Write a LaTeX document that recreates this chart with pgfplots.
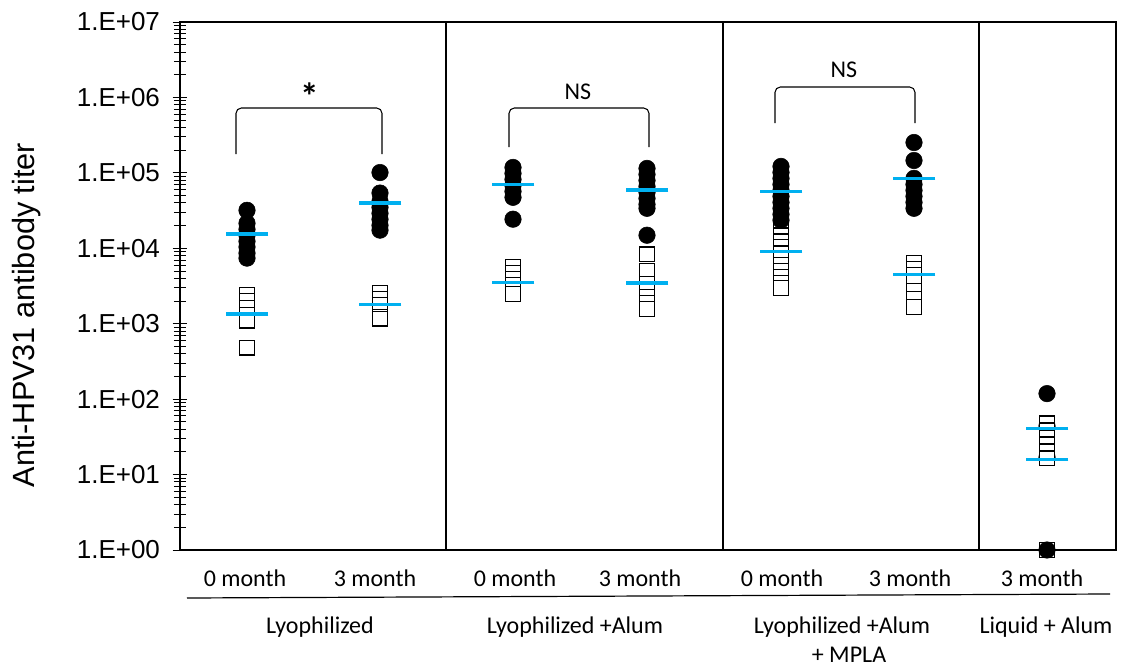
\documentclass[border=0pt]{standalone}
\usepackage{pgfplots}
\pgfplotsset{compat=1.18}
\usepackage{fontspec}
\setmainfont{Carlito}
\newfontfamily\lib{Liberation Sans}
\definecolor{meanblue}{RGB}{0,176,240}

\begin{document}
\begin{tikzpicture}
\useasboundingbox (-135pt,-89.25pt) rectangle (706.5pt,412.5pt);
\begin{axis}[
  at={(0pt,0pt)}, anchor=south west, scale only axis,
  width=702pt, height=396pt,
  xmin=180, xmax=1116, ymode=log, ymin=1, ymax=1e7,
  axis line style={line width=0.8pt},
  clip=false,
  xtick={245,375,515,640,782,910,1042},
  xticklabels={0 month,3 month,0 month,3 month,0 month,3 month,3 month},
  major x tick style={draw=none},
  xticklabel style={font=\fontsize{18}{20}\selectfont, anchor=base, yshift=-21.5pt},
  ytick={1,10,100,1000,10000,100000,1000000,10000000},
  yticklabels={1.E+00,1.E+01,1.E+02,1.E+03,1.E+04,1.E+05,1.E+06,1.E+07},
  yticklabel style={font=\lib\fontsize{19.5}{22}\selectfont, xshift=-6pt},
  ytick pos=left, xtick pos=bottom,
  tick align=center,
  major tick length=11pt, minor tick length=9pt,
  every tick/.style={black, line width=0.6pt},
]
% separators
\draw[line width=0.8pt] (axis cs:446,1) -- (axis cs:446,1e7);
\draw[line width=0.8pt] (axis cs:723,1) -- (axis cs:723,1e7);
\draw[line width=0.8pt] (axis cs:979,1) -- (axis cs:979,1e7);

% hidden circles behind squares (liquid)
\addplot[only marks, mark=*, mark size=6.2pt, mark options={fill=black, draw=black}]
coordinates {(1047,44)(1047,17)};

% squares
\addplot[only marks, mark=square*, mark size=5.5pt, mark options={fill=white, draw=black, line width=1.1pt}]
coordinates {
(247,2410)(247,2005)(247,1620)(247,1310)(247,1092)(247,480)
(380,2560)(380,2130)(380,1775)(380,1480)(380,1233)(380,1160)
(513,5640)(513,4700)(513,3915)(513,3262)(513,2718)(513,2480)
(647,8370)(647,4990)(647,3360)(647,2718)(647,2265)(647,1888)(647,1572)
(781,17900)(781,14900)(781,12400)(781,10400)(781,8630)(781,7190)(781,5990)(781,4990)(781,4160)(781,3470)(781,2980)
(914,6370)(914,5310)(914,4420)(914,3470)(914,2718)(914,2130)(914,1670)
(1047,47.6)(1047,38.5)(1047,31.1)(1047,25.1)(1047,20.3)(1047,16.4)(1047,1)
};

% circles
\addplot[only marks, mark=*, mark size=6.2pt, mark options={fill=black, draw=black}]
coordinates {
(247,31900)(247,21500)(247,17900)(247,14900)(247,12400)(247,10400)(247,8630)(247,7410)
(380,101000)(380,54000)(380,42000)(380,35000)(380,29100)(380,24300)(380,20200)(380,17400)
(513,118000)(513,98400)(513,81900)(513,68300)(513,56900)(513,47400)(513,24300)
(647,114500)(647,95400)(647,79400)(647,66200)(647,55200)(647,45900)(647,38300)(647,33900)(647,14900)
(781,121700)(781,101400)(781,84500)(781,70400)(781,58700)(781,48900)(781,40700)(781,33900)(781,28300)(781,23600)
(914,252600)(914,145900)(914,84500)(914,70400)(914,58700)(914,48900)(914,40700)(914,33900)
(1047,118.5)(1047,1)
};

% means
\addplot[only marks, mark=-, mark size=16pt, mark options={draw=meanblue, line width=2.6pt}]
coordinates {
(247,15400)(247,1350)(380,39900)(380,1800)(513,69700)(513,3500)(647,59200)(647,3470)
(781,56900)(781,9090)(914,84500)(914,4470)(1047,40.9)(1047,15.9)
};
\end{axis}

\begin{scope}[x=0.75pt, y=-0.75pt, shift={(-135pt,412.5pt)}]
% y label
\node[rotate=90, font=\lib\fontsize{23}{26}\selectfont] at (27,315) {Anti-HPV31 antibody titer};
% brackets
\draw[line width=0.8pt, rounded corners=4pt] (236,154) -- (236,108) -- (382,108) -- (382,154);
\draw[line width=0.8pt, rounded corners=4pt] (509,147) -- (509,108) -- (649,108) -- (649,147);
\draw[line width=0.8pt, rounded corners=4pt] (775,123) -- (775,87) -- (915,87) -- (915,123);
\node[font=\bfseries\fontsize{28}{30}\selectfont, inner sep=0pt] at (310,96) {*};
\node[anchor=base, font=\fontsize{18}{20}\selectfont] at (578,99) {NS};
\node[anchor=base, font=\fontsize{18}{20}\selectfont] at (844,77) {NS};
% group line
\draw[line width=0.9pt] (187,598) -- (1110,594);
% group labels
\node[anchor=base, font=\fontsize{18}{20}\selectfont] at (320,633) {Lyophilized};
\node[anchor=base, font=\fontsize{18}{20}\selectfont] at (575,633) {Lyophilized +Alum};
\node[anchor=base, font=\fontsize{18}{20}\selectfont] at (842,633) {Lyophilized +Alum};
\node[anchor=base, font=\fontsize{18}{20}\selectfont] at (849,662) {+ MPLA};
\node[anchor=base, font=\fontsize{18}{20}\selectfont] at (1046,633) {Liquid + Alum};
\end{scope}
\end{tikzpicture}
\end{document}
